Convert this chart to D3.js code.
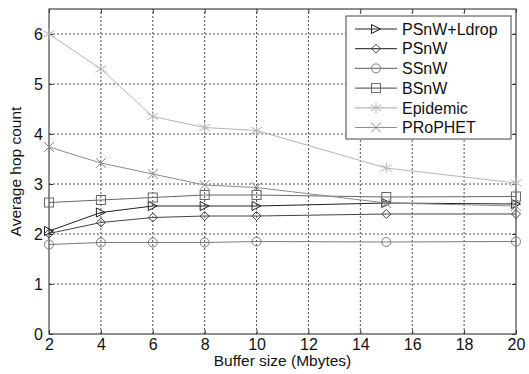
<!DOCTYPE html>
<html lang="en">
<head>
<meta charset="UTF-8">
<title>Average hop count vs buffer size</title>
<script src="https://d3js.org/d3.v7.min.js"></script>
<style>
    body { margin: 0; background: #fff; }
    text { font-family: "Liberation Sans", Arial, sans-serif; fill: #111; }
</style>
</head>
<body>
<div id="chart"></div>
<script>
// data
const bufferSizes = [2, 4, 6, 8, 10, 15, 20];
const psnwLdrop = [2.06, 2.43, 2.56, 2.56, 2.56, 2.62, 2.60];
const psnw      = [2.01, 2.23, 2.33, 2.36, 2.36, 2.40, 2.40];
const ssnw      = [1.79, 1.83, 1.83, 1.83, 1.85, 1.84, 1.85];
const bsnw      = [2.63, 2.68, 2.73, 2.78, 2.78, 2.74, 2.75];
const epidemic  = [6.00, 5.30, 4.35, 4.13, 4.07, 3.32, 3.02];
const prophet   = [3.74, 3.42, 3.20, 2.98, 2.93, 2.62, 2.56];
const xTicks = [2, 4, 6, 8, 10, 12, 14, 16, 18, 20];
const yTicks = [0, 1, 2, 3, 4, 5, 6];

const series = [
    { name: "PSnW+Ldrop", values: psnwLdrop, color: "#222", marker: "triangle" },
    { name: "PSnW", values: psnw, color: "#444", marker: "diamond" },
    { name: "SSnW", values: ssnw, color: "#7a7a7a", marker: "circle" },
    { name: "BSnW", values: bsnw, color: "#666", marker: "square" },
    { name: "Epidemic", values: epidemic, color: "#b4b4b4", marker: "star" },
    { name: "PRoPHET", values: prophet, color: "#8c8c8c", marker: "cross" }
];

const W = 529, H = 374;
const margin = { top: 9, right: 13, bottom: 40, left: 49 };

const svg = d3.select("#chart").append("svg")
    .attr("width", W).attr("height", H);

const x = d3.scaleLinear().domain([2, 20]).range([margin.left, W - margin.right]);
const y = d3.scaleLinear().domain([0, 6.5]).range([H - margin.bottom, margin.top]);

// grid
const grid = svg.append("g").attr("stroke", "#222").attr("stroke-width", 0.8)
    .attr("stroke-dasharray", "2,2");
grid.selectAll("line.vx").data(xTicks.slice(1, -1)).enter().append("line")
    .attr("x1", d => x(d)).attr("x2", d => x(d))
    .attr("y1", y(0)).attr("y2", y(6.5));
grid.selectAll("line.hy").data(yTicks.slice(1)).enter().append("line")
    .attr("x1", x(2)).attr("x2", x(20))
    .attr("y1", d => y(d)).attr("y2", d => y(d));

// axes (matlab style box, ticks inward)
svg.append("g").attr("transform", "translate(0," + y(0) + ")")
    .call(d3.axisBottom(x).tickValues(xTicks).tickFormat(d3.format("d"))
        .tickSizeInner(-4).tickSizeOuter(0).tickPadding(5))
    .call(g => g.select(".domain").remove());
svg.append("g").attr("transform", "translate(" + x(2) + ",0)")
    .call(d3.axisLeft(y).tickValues(yTicks).tickFormat(d3.format("d"))
        .tickSizeInner(-4).tickSizeOuter(0).tickPadding(6))
    .call(g => g.select(".domain").remove());
svg.append("g").attr("transform", "translate(0," + y(6.5) + ")")
    .call(d3.axisTop(x).tickValues(xTicks).tickSizeInner(-4).tickSizeOuter(0).tickFormat(""))
    .call(g => g.select(".domain").remove());
svg.append("g").attr("transform", "translate(" + x(20) + ",0)")
    .call(d3.axisRight(y).tickValues(yTicks).tickSizeInner(-4).tickSizeOuter(0).tickFormat(""))
    .call(g => g.select(".domain").remove());
svg.selectAll(".tick text").style("font-size", "16px").attr("fill", "#111");
svg.selectAll(".tick line").attr("stroke", "#333");

svg.append("rect")
    .attr("x", x(2)).attr("y", y(6.5))
    .attr("width", x(20) - x(2)).attr("height", y(0) - y(6.5))
    .attr("fill", "none").attr("stroke", "#444").attr("stroke-width", 1.2);

// markers
function drawMarker(g, type, color) {
    const s = 4.5;
    if (type === "triangle") {
        g.append("path").attr("d", `M${-s},${-s}L${s},0L${-s},${s}Z`).attr("fill", "none").attr("stroke", color);
    } else if (type === "diamond") {
        g.append("path").attr("d", `M0,${-s}L${s},0L0,${s}L${-s},0Z`).attr("fill", "none").attr("stroke", color);
    } else if (type === "circle") {
        g.append("circle").attr("r", s).attr("fill", "none").attr("stroke", color);
    } else if (type === "square") {
        g.append("rect").attr("x", -s).attr("y", -s).attr("width", 2 * s).attr("height", 2 * s)
            .attr("fill", "none").attr("stroke", color);
    } else if (type === "star") {
        const r = 5.5;
        g.append("path").attr("d", `M0,${-r}V${r}M${-r},${-r * 0.6}L${r},${r * 0.6}M${-r},${r * 0.6}L${r},${-r * 0.6}`)
            .attr("stroke", color);
    } else if (type === "cross") {
        const r = 5;
        g.append("path").attr("d", `M${-r},${-r}L${r},${r}M${-r},${r}L${r},${-r}`).attr("stroke", color);
    }
}

const line = d3.line().x((d, i) => x(bufferSizes[i])).y(d => y(d));

series.forEach(s => {
    svg.append("path").datum(s.values)
        .attr("d", line).attr("fill", "none")
        .attr("stroke", s.color).attr("stroke-width", 1);
    s.values.forEach((v, i) => {
        const g = svg.append("g").attr("transform", `translate(${x(bufferSizes[i])},${y(v)})`);
        drawMarker(g, s.marker, s.color);
    });
});

// legend
const lg = svg.append("g").attr("transform", "translate(346,16)");
lg.append("rect").attr("width", 165).attr("height", 123)
    .attr("fill", "#fff").attr("stroke", "#444").attr("stroke-width", 1);
series.forEach((s, i) => {
    const row = lg.append("g").attr("transform", `translate(0,${13 + i * 19.7})`);
    row.append("line").attr("x1", 9).attr("x2", 51).attr("stroke", s.color).attr("stroke-width", 1.2);
    drawMarker(row.append("g").attr("transform", "translate(30,0)"), s.marker, s.color);
    row.append("text").attr("x", 56).attr("dy", "0.36em")
        .style("font-size", "16px").text(s.name);
});

// axis titles
svg.append("text")
    .attr("x", (x(2) + x(20)) / 2).attr("y", 366)
    .attr("text-anchor", "middle").style("font-size", "15.5px")
    .text("Buffer size (Mbytes)");
svg.append("text")
    .attr("transform", `translate(21,${(y(0) + y(6.5)) / 2}) rotate(-90)`)
    .attr("text-anchor", "middle").style("font-size", "15.5px")
    .text("Average hop count");
</script>
</body>
</html>
